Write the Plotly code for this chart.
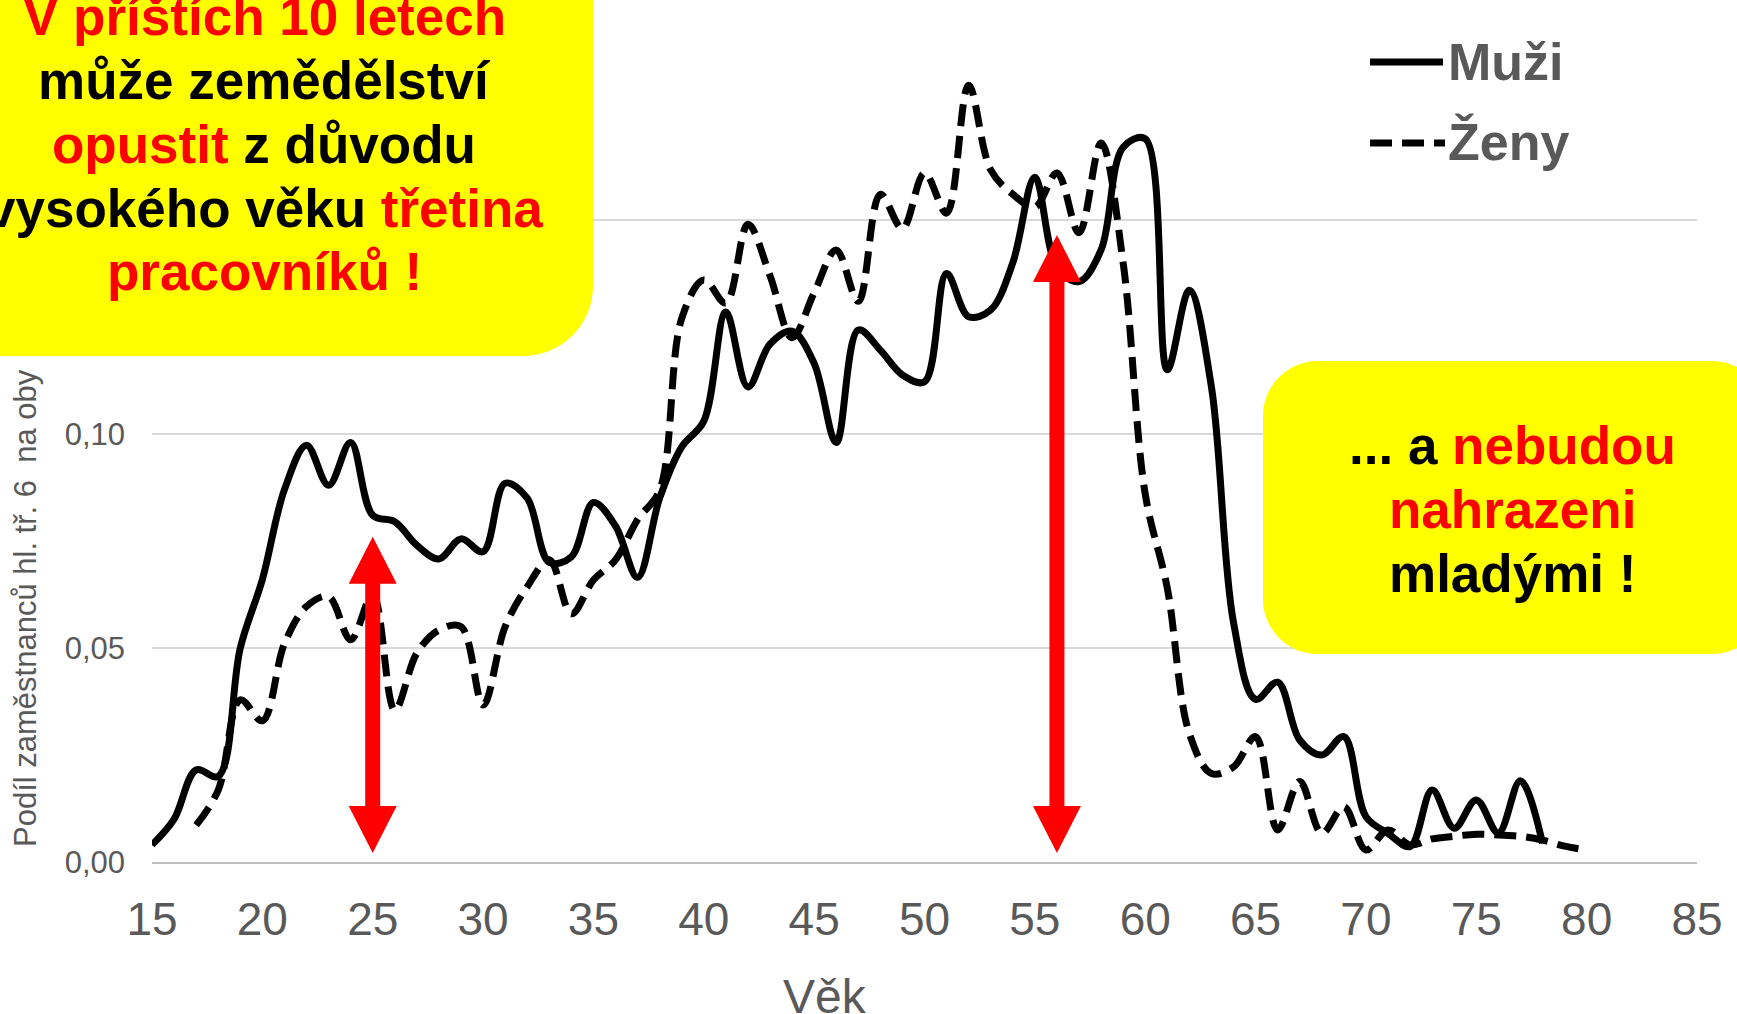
import plotly.graph_objects as go

# --- data ---
age_men = list(range(15, 79))
men = [0.0040, 0.0100, 0.0215, 0.0200, 0.0500, 0.0660, 0.0870, 0.0974, 0.0880, 0.0980,
       0.0810, 0.0795, 0.0740, 0.0708, 0.0755, 0.0725, 0.0885, 0.0850, 0.0700, 0.0713,
       0.0840, 0.0785, 0.0665, 0.0850, 0.0970, 0.1030, 0.1285, 0.1110, 0.1210, 0.1240,
       0.1165, 0.0980, 0.1243, 0.1196, 0.1138, 0.1122, 0.1375, 0.1274, 0.1290, 0.1400,
       0.1600, 0.1390, 0.1356, 0.1430, 0.1670, 0.1690, 0.1150, 0.1336, 0.1110, 0.0560,
       0.0380, 0.0420, 0.0285, 0.0250, 0.0293, 0.0106, 0.0067, 0.0036, 0.0168, 0.0079,
       0.0145, 0.0068, 0.0190, 0.0044]

age_women = list(range(17, 81))
women = [0.0086, 0.0168, 0.0379, 0.0330, 0.0510, 0.0597, 0.0620, 0.0519, 0.0625, 0.0355,
         0.0488, 0.0542, 0.0550, 0.0367, 0.0550, 0.0643, 0.0706, 0.0580, 0.0659, 0.0706,
         0.0800, 0.0869, 0.1270, 0.1360, 0.1306, 0.1490, 0.1370, 0.1225, 0.1330, 0.1430,
         0.1310, 0.1560, 0.1480, 0.1610, 0.1516, 0.1815, 0.1617, 0.1560, 0.1530, 0.1610,
         0.1470, 0.1680, 0.1400, 0.0860, 0.0640, 0.0300, 0.0207, 0.0222, 0.0293, 0.0075,
         0.0188, 0.0067, 0.0129, 0.0028, 0.0075, 0.0040, 0.0054, 0.0060, 0.0065, 0.0063,
         0.0060, 0.0051, 0.0037, 0.0028]

series_names = ["Muži", "Ženy"]

# red double arrows (age, top tip, bottom tip)
arrow_age = [25, 56]
arrow_top = [0.076, 0.1465]
arrow_bottom = [0.0021, 0.0021]

left_lines = ['<span style="color:#ff0000">V příštích 10 letech</span>',
              'může zemědělství',
              '<span style="color:#ff0000">opustit</span> z důvodu',
              'vysokého věku <span style="color:#ff0000">třetina</span>',
              '<span style="color:#ff0000">pracovníků !</span>']
right_lines = ['... a <span style="color:#ff0000">nebudou</span>',
               '<span style="color:#ff0000">nahrazeni</span>',
               'mladými !']

W, H = 1737, 1014
ML, MR, MT, MB = 152, 40, 6, 152
PW, PH = W - ML - MR, H - MT - MB
XR = [15, 85]
YR = [0, 0.2]
FONT = "Liberation Sans, Arial, sans-serif"
GREY = "#595959"


def px(x):
    return (x - ML) / PW


def py(y):
    return (MT + PH - y) / PH


def rrect(x0, y0, x1, y1, r):
    k = 0.5523 * r
    p = [("M", [(x0 + r, y0)]),
         ("L", [(x1 - r, y0)]),
         ("C", [(x1 - r + k, y0), (x1, y0 + r - k), (x1, y0 + r)]),
         ("L", [(x1, y1 - r)]),
         ("C", [(x1, y1 - r + k), (x1 - r + k, y1), (x1 - r, y1)]),
         ("L", [(x0 + r, y1)]),
         ("C", [(x0 + r - k, y1), (x0, y1 - r + k), (x0, y1 - r)]),
         ("L", [(x0, y0 + r)]),
         ("C", [(x0, y0 + r - k), (x0 + r - k, y0), (x0 + r, y0)])]
    s = ""
    for cmd, pts in p:
        s += cmd + " " + " ".join("%.5f,%.5f" % (px(a), py(b)) for a, b in pts) + " "
    return s + "Z"


fig = go.Figure()
fig.add_trace(go.Scatter(x=age_men, y=men, mode="lines", name=series_names[0],
                         line=dict(color="black", width=7, shape="spline", smoothing=1.0),
                         showlegend=False))
fig.add_trace(go.Scatter(x=age_women, y=women, mode="lines", name=series_names[1],
                         line=dict(color="black", width=7, shape="spline", smoothing=1.0,
                                   dash="22px,10px"),
                         showlegend=False))

shapes = []
# arrows
hw = 24 * (XR[1] - XR[0]) / PW
hl = 47 * (YR[1] - YR[0]) / PH
for a, t, b in zip(arrow_age, arrow_top, arrow_bottom):
    shapes.append(dict(type="line", xref="x", yref="y", x0=a, x1=a, y0=b + hl * 0.9, y1=t - hl * 0.9,
                       line=dict(color="#ff0000", width=15), layer="above"))
    shapes.append(dict(type="path", xref="x", yref="y", layer="above",
                       path=f"M {a - hw},{t - hl} L {a + hw},{t - hl} L {a},{t} Z",
                       fillcolor="#ff0000", line=dict(width=0)))
    shapes.append(dict(type="path", xref="x", yref="y", layer="above",
                       path=f"M {a - hw},{b + hl} L {a + hw},{b + hl} L {a},{b} Z",
                       fillcolor="#ff0000", line=dict(width=0)))

# yellow callouts
shapes.append(dict(type="path", xref="paper", yref="paper", layer="above",
                   path=rrect(-90, -90, 593, 356, 70), fillcolor="#ffff00", line=dict(width=0)))
shapes.append(dict(type="path", xref="paper", yref="paper", layer="above",
                   path=rrect(1263, 361, 1767, 654, 55), fillcolor="#ffff00", line=dict(width=0)))

# legend samples
shapes.append(dict(type="line", xref="paper", yref="paper", x0=px(1370), x1=px(1443),
                   y0=py(62), y1=py(62), line=dict(color="black", width=7), layer="above"))
shapes.append(dict(type="line", xref="paper", yref="paper", x0=px(1370), x1=px(1445),
                   y0=py(143), y1=py(143), line=dict(color="black", width=7, dash="22px,10px"),
                   layer="above"))

annotations = []
for txt, yc in zip(left_lines, [17, 80, 144, 208, 272]):
    annotations.append(dict(xref="paper", yref="paper", x=px(264), y=py(yc), text="<b>" + txt + "</b>",
                            showarrow=False, xanchor="center", yanchor="middle",
                            font=dict(family=FONT, size=53, color="black")))
for txt, yc in zip(right_lines, [445, 510, 573]):
    annotations.append(dict(xref="paper", yref="paper", x=px(1512), y=py(yc), text="<b>" + txt + "</b>",
                            showarrow=False, xanchor="center", yanchor="middle",
                            font=dict(family=FONT, size=53, color="black")))
for name, yc in zip(series_names, [62, 142]):
    annotations.append(dict(xref="paper", yref="paper", x=px(1446), y=py(yc), text="<b>" + name + "</b>",
                            showarrow=False, xanchor="left", yanchor="middle",
                            font=dict(family=FONT, size=52, color=GREY)))

# axis titles
annotations.append(dict(xref="paper", yref="paper", x=px(825), y=py(996), text="Věk",
                        showarrow=False, xanchor="center", yanchor="middle",
                        font=dict(family=FONT, size=48, color=GREY)))
annotations.append(dict(xref="paper", yref="paper", x=px(25), y=py(849),
                        text="Podíl zaměstnanců hl. tř. 6\u00a0 na oby", textangle=-90,
                        showarrow=False, xanchor="center", yanchor="bottom",
                        font=dict(family=FONT, size=31, color=GREY)))

fig.update_layout(
    width=W, height=H,
    margin=dict(l=ML, r=MR, t=MT, b=MB),
    paper_bgcolor="white", plot_bgcolor="white",
    separators=", ",
    font=dict(family=FONT, color=GREY),
    xaxis=dict(range=XR, dtick=5, tick0=15, showgrid=False, zeroline=False,
               showline=True, linecolor="#bfbfbf", linewidth=2,
               tickfont=dict(size=46, color=GREY), ticks="", ticklabelstandoff=16),
    yaxis=dict(range=YR, dtick=0.05, tickformat=".2f", showgrid=True, gridcolor="#d9d9d9",
               gridwidth=1.5, zeroline=False, showline=False,
               tickfont=dict(size=31, color=GREY), ticks="", ticklabelstandoff=26),
    shapes=shapes,
    annotations=annotations,
)

fig.write_html("out.html", config={"displayModeBar": False},
               post_script="document.body.style.margin='0px';document.body.style.overflow='hidden';")
